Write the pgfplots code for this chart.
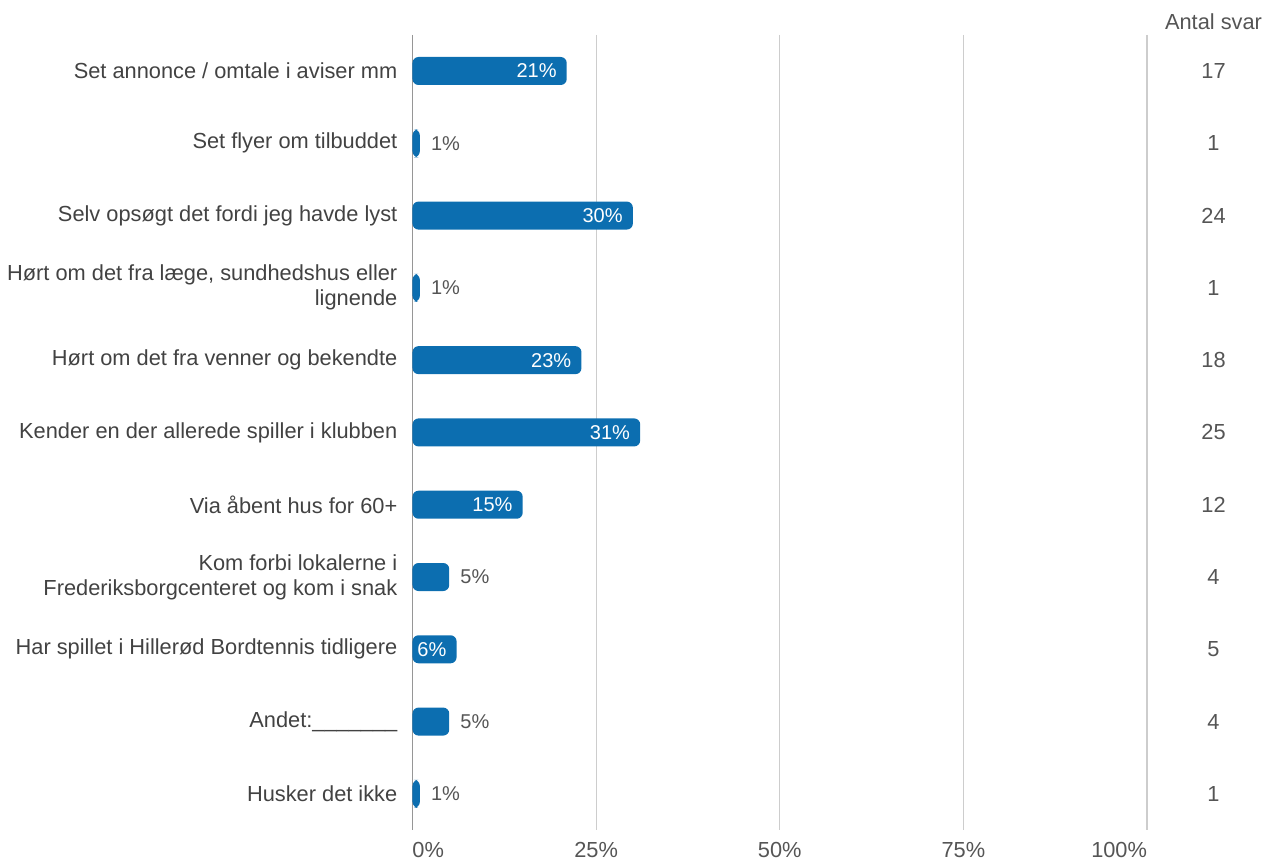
\documentclass[border=0pt]{standalone}
\usepackage{pgfplots}
\usepackage{pgfplotstable}
\pgfplotsset{compat=1.18}
\usepackage{fontspec}
\setmainfont{Liberation Sans}
\definecolor{barblue}{RGB}{12,110,176}
\definecolor{labelgray}{RGB}{66,66,66}
\definecolor{tickgray}{RGB}{85,85,85}
\definecolor{gridgray}{RGB}{205,205,205}
\definecolor{axisgray}{RGB}{150,150,150}
\newcommand\lf{\fontsize{21.8}{25}\selectfont}
\newcommand\pf{\fontsize{20}{24}\selectfont}

\pgfplotstableread{
idx pct n inside
0 21 17 1
1 1 1 0
2 30 24 1
3 1 1 0
4 23 18 1
5 31 25 1
6 15 12 1
7 5 4 0
8 6 5 1
9 5 4 0
10 1 1 0
}\datatable

\begin{document}
\begin{tikzpicture}
\path[use as bounding box] (-412.5pt,-30pt) rectangle (852.5pt,830pt);
\begin{axis}[
  at={(0,0)}, anchor=south west,
  scale only axis,
  width=734.5pt, height=795.15pt,
  xmin=2, xmax=102,
  ymin=-0.5, ymax=10.5,
  y dir=reverse,
  axis line style={draw=none},
  major tick length=0pt,
  xtick={2,27,52,77,102},
  xticklabels={\rlap{0\%},25\%,50\%,75\%,\llap{100\%}},
  xticklabel style={font=\lf, text=tickgray, inner sep=0pt, anchor=north, yshift=-12pt},
  extra x ticks={2},
  extra x tick labels={},
  extra x tick style={grid style={draw=axisgray, line width=1.3pt}},
  xmajorgrids,
  grid style={draw=gridgray, line width=1.1pt},
  ytick={0,...,10},
  yticklabels={
    Set annonce / omtale i aviser mm,
    Set flyer om tilbuddet,
    Selv opsøgt det fordi jeg havde lyst,
    {Hørt om det fra læge, sundhedshus eller\\lignende},
    Hørt om det fra venner og bekendte,
    Kender en der allerede spiller i klubben,
    Via åbent hus for 60+,
    {Kom forbi lokalerne i\\Frederiksborgcenteret og kom i snak},
    Har spillet i Hillerød Bordtennis tidligere,
    Andet:\_\_\_\_\_\_\_,
    Husker det ikke},
  yticklabel style={font=\lf, text=labelgray, align=right, inner sep=0pt, anchor=east, xshift=-15pt},
]
\addplot[xbar, bar width=28pt, fill=barblue, draw=none, rounded corners=6pt]
  table[x expr=\thisrow{pct}+2, y=idx] {\datatable};
\addplot[draw=none, mark=none, point meta=explicit symbolic,
  nodes near coords={\pgfplotspointmeta\%},
  nodes near coords style={anchor=east, inner sep=0pt, xshift=-10pt, text=white, font=\pf}]
  table[x expr={\thisrow{inside}==1 ? \thisrow{pct}+2 : nan}, y=idx, meta=pct] {\datatable};
\addplot[draw=none, mark=none, point meta=explicit symbolic,
  nodes near coords={\pgfplotspointmeta\%},
  nodes near coords style={anchor=west, inner sep=0pt, xshift=11pt, text=tickgray, font=\pf}]
  table[x expr={\thisrow{inside}==0 ? \thisrow{pct}+2 : nan}, y=idx, meta=pct] {\datatable};
\end{axis}
\begin{axis}[
  at={(0,0)}, anchor=south west,
  scale only axis,
  width=734.5pt, height=795.15pt,
  xmin=0, xmax=1,
  ymin=-0.5, ymax=10.5,
  y dir=reverse,
  axis line style={draw=none},
  major tick length=0pt,
  xtick=\empty,
  ytick={0,...,10},
  yticklabel pos=right,
  yticklabels from table={\datatable}{n},
  yticklabel style={font=\lf, text=tickgray, inner sep=0pt, anchor=center, xshift=66.5pt},
]
\end{axis}
\node[font=\lf, text=tickgray, inner sep=0pt, anchor=center] at (801pt,808pt) {Antal svar};
\end{tikzpicture}
\end{document}
